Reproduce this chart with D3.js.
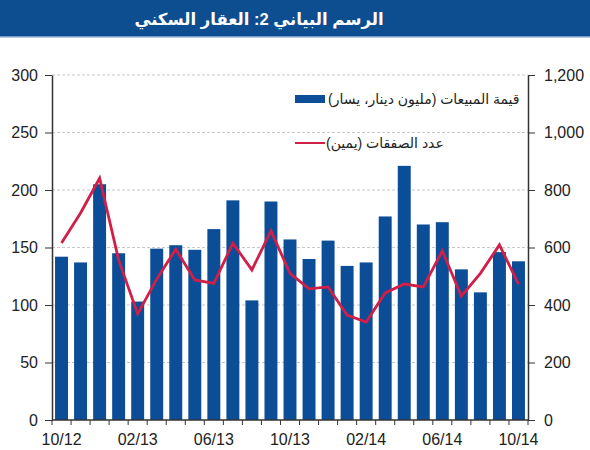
<!DOCTYPE html>
<html>
<head>
<meta charset="utf-8">
<script src="https://cdn.jsdelivr.net/npm/d3@7"></script>
<style>
  body { margin: 0; background: #fff; }
  svg { font-family: "Liberation Sans", Arial, "DejaVu Sans", sans-serif; }
</style>
</head>
<body>
<div class="chart-container"></div>
<script>
// months (10/12 .. 10/14)
const months = ['10/12','11/12','12/12','01/13','02/13','03/13','04/13','05/13','06/13','07/13','08/13','09/13',
  '10/13','11/13','12/13','01/14','02/14','03/14','04/14','05/14','06/14','07/14','08/14','09/14','10/14'];
// sales value, million KD (left axis)
const sales = [142,137,205,145,103,149,152,148,166,191,104,190,157,140,156,134,137,177,221,170,172,131,111,146,138];
// number of deals (right axis)
const deals = [616,720,841,557,369,490,594,487,475,615,522,658,510,456,463,365,341,442,473,463,588,431,510,609,473];
// axis ticks
const leftTicks = [0,50,100,150,200,250,300];
const rightTicks = [0,200,400,600,800,1000,1200];
const xLabels = ['10/12','02/13','06/13','10/13','02/14','06/14','10/14'];

const titleText = 'الرسم البياني 2: العقار السكني';
const legendSales = 'قيمة المبيعات (مليون دينار، يسار)';
const legendDeals = 'عدد الصفقات (يمين)';

const svg_width = 590, svg_height = 450;
const margin = { top: 75, right: 62, bottom: 30, left: 52 };
const chart_width = svg_width - margin.left - margin.right;
const chart_height = svg_height - margin.top - margin.bottom;

const svg = d3.select('.chart-container').append('svg')
  .attr('width', svg_width).attr('height', svg_height);

// title bar
svg.append('rect').attr('x', 0).attr('y', 0).attr('width', svg_width).attr('height', 36)
  .style('fill', '#0d4e91');
svg.append('rect').attr('x', 0).attr('y', 36).attr('width', svg_width).attr('height', 1.5)
  .style('fill', '#6f9cc8');
svg.append('text').attr('x', 259).attr('y', 25)
  .attr('text-anchor', 'middle').attr('direction', 'rtl')
  .style('font-size', '16.5px').style('font-weight', 'bold').style('fill', '#fff')
  .text(titleText);

const g = svg.append('g').attr('transform', `translate(${margin.left},${margin.top})`);

// scales
const xScale = d3.scaleBand().domain(months).range([0, chart_width]).paddingInner(0.32).paddingOuter(0.16);
const yLeft = d3.scaleLinear().domain([0, 300]).range([chart_height, 0]);
const yRight = d3.scaleLinear().domain([0, 1200]).range([chart_height, 0]);

// dashed gridlines
g.selectAll('.grid').data(leftTicks.filter(d => d > 0)).enter().append('line')
  .attr('class', 'grid')
  .attr('x1', 0).attr('x2', chart_width)
  .attr('y1', d => yLeft(d)).attr('y2', d => yLeft(d))
  .style('stroke', '#c8c8c8').style('stroke-dasharray', '3,2').style('stroke-width', 1);

// bars
g.selectAll('.bar').data(months).enter().append('rect')
  .attr('class', 'bar')
  .attr('x', d => xScale(d))
  .attr('y', (d, i) => yLeft(sales[i]))
  .attr('width', xScale.bandwidth())
  .attr('height', (d, i) => chart_height - yLeft(sales[i]))
  .style('fill', '#0b4d96');

// deals line
const line = d3.line()
  .x((d, i) => xScale(months[i]) + xScale.bandwidth() / 2)
  .y(d => yRight(d));
g.append('path').datum(deals).attr('d', line)
  .style('fill', 'none').style('stroke', '#d01f48').style('stroke-width', 2.8)
  .style('stroke-linejoin', 'miter');

// axes
const leftAxis = d3.axisLeft(yLeft).tickValues(leftTicks).tickSize(7).tickPadding(7).tickSizeOuter(0);
const rightAxis = d3.axisRight(yRight).tickValues(rightTicks).tickSize(7).tickPadding(9).tickSizeOuter(0)
  .tickFormat(d3.format(','));

const leftG = g.append('g').call(leftAxis);
const rightG = g.append('g').attr('transform', `translate(${chart_width},0)`).call(rightAxis);
[leftG, rightG].forEach(ax => {
  ax.select('.domain').style('stroke', '#333').style('stroke-width', 1.5);
  ax.selectAll('.tick line').style('stroke', '#333');
  ax.selectAll('text').style('font-size', '16px').style('fill', '#222')
    .style('font-family', '"Liberation Sans", Arial, sans-serif');
});

// x axis: ticks at band edges, labels every 4th month
const xAxisG = g.append('g').attr('transform', `translate(0,${chart_height})`);
xAxisG.append('line').attr('x1', 0).attr('x2', chart_width).attr('y1', 0).attr('y2', 0)
  .style('stroke', '#333').style('stroke-width', 1.5);
const edges = d3.range(months.length + 1).map(i => i * chart_width / months.length);
xAxisG.selectAll('.xtick').data(edges).enter().append('line')
  .attr('x1', d => d).attr('x2', d => d).attr('y1', 0).attr('y2', 5)
  .style('stroke', '#333');
xAxisG.selectAll('.xlabel').data(xLabels).enter().append('text')
  .attr('x', d => xScale(d) + xScale.bandwidth() / 2)
  .attr('y', 25)
  .attr('text-anchor', 'middle')
  .style('font-size', '16px').style('fill', '#222')
  .text(d => d);

// legend
const legend = svg.append('g');
legend.append('rect').attr('x', 295).attr('y', 95).attr('width', 30).attr('height', 8).style('fill', '#0b4d96');
legend.append('text').attr('x', 328).attr('y', 104)
  .attr('direction', 'rtl').attr('text-anchor', 'end')
  .style('font-size', '14px').style('fill', '#222')
  .text(legendSales);
legend.append('line').attr('x1', 295).attr('x2', 325).attr('y1', 143).attr('y2', 143)
  .style('stroke', '#d01f48').style('stroke-width', 2);
legend.append('text').attr('x', 326).attr('y', 148)
  .attr('direction', 'rtl').attr('text-anchor', 'end')
  .style('font-size', '14px').style('fill', '#222')
  .text(legendDeals);
</script>
</body>
</html>
